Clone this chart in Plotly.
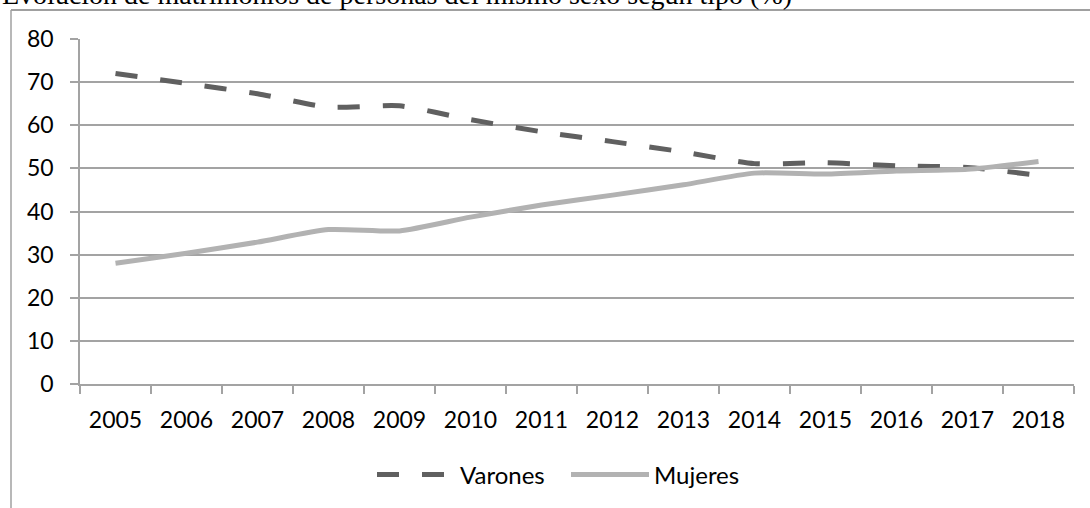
import plotly.graph_objects as go

years = ["2005", "2006", "2007", "2008", "2009", "2010", "2011",
         "2012", "2013", "2014", "2015", "2016", "2017", "2018"]
varones = [72.0, 69.7, 67.3, 64.2, 64.5, 61.3, 58.5, 56.2, 53.8, 51.1, 51.3, 50.6, 50.2, 48.4]
mujeres = [28.0, 30.3, 32.9, 35.8, 35.5, 38.7, 41.5, 43.8, 46.2, 48.9, 48.7, 49.4, 49.8, 51.6]
title_text = "Evolución de matrimonios de personas del mismo sexo según tipo (%)"

W, H = 1090, 508
L, T = 80, 39
R = W - 1074
B = H - 384
pw, ph = W - L - R, H - T - B

def px_x(x):
    return (x - L) / pw

def px_y(y):
    return (H - B - y) / ph

FONT = "Lato"
GRID = "#a3a3a3"

fig = go.Figure()
fig.add_trace(go.Scatter(
    x=years, y=varones, name="Varones", mode="lines",
    line=dict(color="#606060", width=5, dash="22px,23px", shape="spline", smoothing=0.6),
))
fig.add_trace(go.Scatter(
    x=years, y=mujeres, name="Mujeres", mode="lines",
    line=dict(color="#b2b2b2", width=5, shape="spline", smoothing=0.6),
))

fig.update_layout(
    width=W, height=H,
    margin=dict(l=L, r=R, t=T, b=B, pad=0, autoexpand=False),
    paper_bgcolor="white", plot_bgcolor="white",
    font=dict(family=FONT, size=23, color="#000000"),
    showlegend=True,
    legend=dict(orientation="h", x=px_x(566), xanchor="center", y=px_y(475), yanchor="middle",
                font=dict(family=FONT, size=24, color="#000000"), itemwidth=78,
                entrywidth=101, bgcolor="rgba(0,0,0,0)"),
    xaxis=dict(type="category", tickson="boundaries", ticks="outside", ticklen=8,
               range=[-0.5, len(years) - 0.5], automargin=False,
               tickcolor=GRID, tickwidth=1.5, showline=True, linecolor=GRID, linewidth=1.5,
               showgrid=False, ticklabelstandoff=15, tickfont=dict(size=23)),
    yaxis=dict(range=[0, 80], tickvals=[0, 10, 20, 30, 40, 50, 60, 70, 80], automargin=False,
               ticks="outside", ticklen=8, tickcolor=GRID, tickwidth=1.5,
               showline=True, linecolor=GRID, linewidth=1.5,
               showgrid=True, gridcolor=GRID, gridwidth=1.5, zeroline=False,
               ticklabelstandoff=12, tickfont=dict(size=23)),
    shapes=[
        dict(type="line", xref="paper", yref="paper", x0=px_x(11), x1=px_x(1100),
             y0=px_y(10), y1=px_y(10), line=dict(color="#a0a0a0", width=2)),
        dict(type="line", xref="paper", yref="paper", x0=px_x(11), x1=px_x(11),
             y0=px_y(10), y1=px_y(520), line=dict(color="#a0a0a0", width=1.5)),
    ],
    annotations=[
        dict(text=title_text, xref="paper", yref="paper", x=px_x(0), xanchor="left",
             y=px_y(12), yanchor="bottom", showarrow=False,
             font=dict(family="Liberation Serif", size=28, color="#000000")),
    ],
)

fig.write_html("out.html", config={"displayModeBar": False},
               post_script="document.body.style.margin='0';document.body.style.padding='0';")
